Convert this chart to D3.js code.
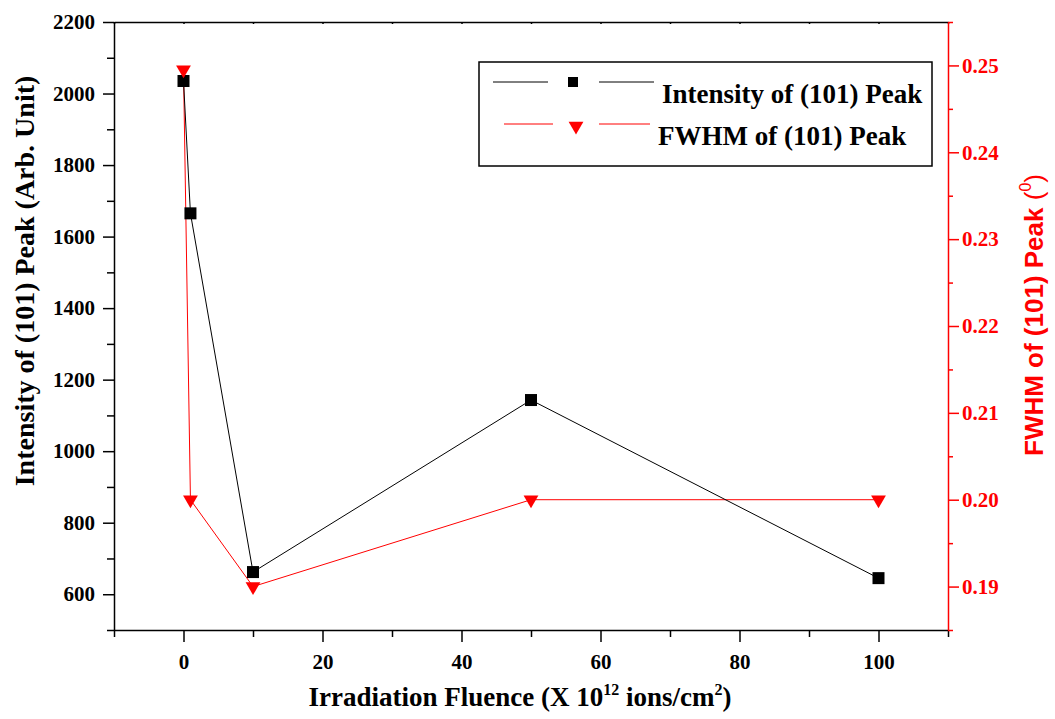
<!DOCTYPE html>
<html>
<head>
<meta charset="utf-8">
<script src="https://cdn.jsdelivr.net/npm/d3@7"></script>
<style>
  html, body { margin: 0; padding: 0; background: #fff; }
  svg text { font-family: "Liberation Serif", "Times New Roman", serif; font-weight: bold; }
</style>
</head>
<body>
<svg id="chart" width="1055" height="719"></svg>
<script>
// ---- data ----
const fluence = [0, 1, 10, 50, 100];
const intensity = [2035, 1665, 662, 1143, 645];
const fwhm = [0.2495, 0.2, 0.19, 0.2, 0.2];
const xTicks = [0, 20, 40, 60, 80, 100];
const yLeftTicks = [600, 800, 1000, 1200, 1400, 1600, 1800, 2000, 2200];
const yRightTicks = [0.19, 0.20, 0.21, 0.22, 0.23, 0.24, 0.25];
const legendLabels = ["Intensity of (101) Peak", "FWHM of (101) Peak"];

// ---- layout ----
const L = 114, R = 948, T = 22, B = 630;
const svg = d3.select("#chart");

const x = d3.scaleLinear().domain([-10, 110]).range([L, R]);
const yL = d3.scaleLinear().domain([500, 2200]).range([B, T]);
const yR = d3.scaleLinear().domain([0.185, 0.255]).range([B, T]);

// minor tick values
const xMinor = d3.range(-10, 111, 20);
const xTop = d3.range(-10, 111, 10);
const yLMinor = d3.range(500, 2200, 200);
const yRMinor = d3.range(0, 8).map(i => +(0.185 + i * 0.01).toFixed(3));

function styleAxis(g, color) {
  g.selectAll("path.domain").attr("stroke", color).attr("stroke-width", 1.5);
  g.selectAll(".tick line").attr("stroke", color).attr("stroke-width", 1.5);
}

// bottom axis
const gx = svg.append("g").attr("transform", `translate(0,${B})`)
  .call(d3.axisBottom(x).tickValues(xTicks).tickSize(12).tickSizeOuter(0).tickPadding(12).tickFormat(d3.format("d")));
styleAxis(gx, "#000");
gx.selectAll("text").attr("fill", "#000").style("font-size", "21px");
const gxm = svg.append("g").attr("transform", `translate(0,${B})`)
  .call(d3.axisBottom(x).tickValues(xMinor).tickSize(7).tickSizeOuter(0).tickFormat(""));
styleAxis(gxm, "#000");
gxm.select("path.domain").remove();

// top axis (tiny inward ticks)
const gt = svg.append("g").attr("transform", `translate(0,${T})`)
  .call(d3.axisBottom(x).tickValues(xTop).tickSize(2).tickSizeOuter(0).tickFormat(""));
styleAxis(gt, "#000");

// left axis
const gl = svg.append("g").attr("transform", `translate(${L},0)`)
  .call(d3.axisLeft(yL).tickValues(yLeftTicks).tickSize(11).tickSizeOuter(0).tickPadding(8).tickFormat(d3.format("d")));
styleAxis(gl, "#000");
gl.selectAll("text").attr("fill", "#000").style("font-size", "21px");
const glm = svg.append("g").attr("transform", `translate(${L},0)`)
  .call(d3.axisLeft(yL).tickValues(yLMinor).tickSize(7).tickSizeOuter(0).tickFormat(""));
styleAxis(glm, "#000");
glm.select("path.domain").remove();

// right axis (red)
const gr = svg.append("g").attr("transform", `translate(${R},0)`)
  .call(d3.axisRight(yR).tickValues(yRightTicks).tickSize(11).tickSizeOuter(0).tickPadding(3).tickFormat(d3.format(".2f")));
styleAxis(gr, "#ff0000");
gr.selectAll("text").attr("fill", "#ff0000").style("font-size", "21px");
const grm = svg.append("g").attr("transform", `translate(${R},0)`)
  .call(d3.axisRight(yR).tickValues(yRMinor).tickSize(5).tickSizeOuter(0).tickFormat(""));
styleAxis(grm, "#ff0000");
grm.select("path.domain").remove();

// ---- series ----
const ptsI = fluence.map((f, i) => [x(f), yL(intensity[i])]);
const ptsF = fluence.map((f, i) => [x(f), yR(fwhm[i])]);

svg.append("path").attr("d", d3.line()(ptsF)).attr("fill", "none").attr("stroke", "#ff0000").attr("stroke-width", 1);
svg.append("path").attr("d", d3.line()(ptsI)).attr("fill", "none").attr("stroke", "#000").attr("stroke-width", 1);

const sq = d3.symbol().type(d3.symbolSquare).size(144);
const tri = d3.symbol().type(d3.symbolTriangle).size(95);

svg.selectAll(".mI").data(ptsI).join("path")
  .attr("d", sq()).attr("transform", d => `translate(${d[0]},${d[1]})`).attr("fill", "#000");
svg.selectAll(".mF").data(ptsF).join("path")
  .attr("d", tri()).attr("transform", d => `translate(${d[0]},${d[1]}) rotate(180)`).attr("fill", "#ff0000");

// ---- legend ----
const lg = svg.append("g");
lg.append("rect").attr("x", 479).attr("y", 62).attr("width", 453).attr("height", 104)
  .attr("fill", "#fff").attr("stroke", "#000").attr("stroke-width", 1.5);
lg.append("line").attr("x1", 493).attr("x2", 548).attr("y1", 82).attr("y2", 82).attr("stroke", "#000");
lg.append("line").attr("x1", 599).attr("x2", 654).attr("y1", 82).attr("y2", 82).attr("stroke", "#000");
lg.append("path").attr("d", d3.symbol().type(d3.symbolSquare).size(100)()).attr("transform", "translate(573,82)").attr("fill", "#000");
lg.append("text").attr("x", 662).attr("y", 103).style("font-size", "27px").attr("fill", "#000").text(legendLabels[0]);
lg.append("line").attr("x1", 504).attr("x2", 553).attr("y1", 124).attr("y2", 124).attr("stroke", "#ff0000");
lg.append("line").attr("x1", 599).attr("x2", 650).attr("y1", 124).attr("y2", 124).attr("stroke", "#ff0000");
lg.append("path").attr("d", tri()).attr("transform", "translate(576,126) rotate(180)").attr("fill", "#ff0000");
lg.append("text").attr("x", 658).attr("y", 145).style("font-size", "27px").attr("fill", "#000").text(legendLabels[1]);

// ---- axis titles ----
const xt = svg.append("text").attr("x", 520).attr("y", 706).attr("text-anchor", "middle")
  .style("font-size", "27px").attr("fill", "#000");
xt.append("tspan").text("Irradiation Fluence (X 10");
xt.append("tspan").attr("dy", -11).style("font-size", "16px").text("12");
xt.append("tspan").attr("dy", 11).text(" ions/cm");
xt.append("tspan").attr("dy", -11).style("font-size", "16px").text("2");
xt.append("tspan").attr("dy", 11).text(")");

svg.append("text").attr("transform", "translate(34,281) rotate(-90)").attr("text-anchor", "middle")
  .style("font-size", "28px").attr("fill", "#000").text("Intensity of (101) Peak (Arb. Unit)");

const rt = svg.append("text").attr("transform", "translate(1043,315) rotate(-90)").attr("text-anchor", "middle")
  .style("font-size", "26px").style("font-family", "'Liberation Sans', Arial, sans-serif").attr("fill", "#ff0000");
rt.append("tspan").text("FWHM of (101) Peak ");
rt.append("tspan").style("font-weight", "normal").text("(");
rt.append("tspan").attr("dy", -12).style("font-weight", "normal").style("font-size", "16px").text("0");
rt.append("tspan").attr("dy", 12).style("font-weight", "normal").text(")");
</script>
</body>
</html>
